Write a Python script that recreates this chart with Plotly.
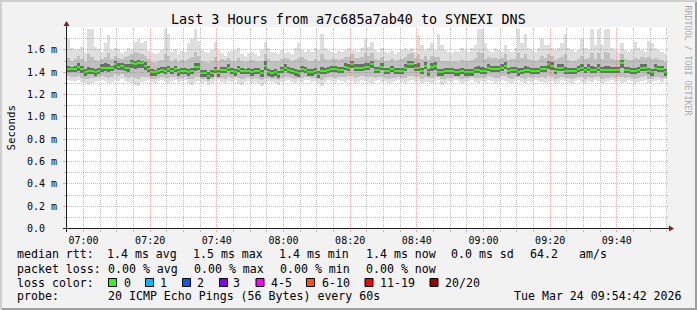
import plotly.graph_objects as go
from datetime import datetime, timedelta

# ---------------- data ----------------
title_text = "Last 3 Hours from a7c685a7ab40 to SYNEXI DNS"
first_step = datetime(2026, 3, 24, 6, 55, 0)   # start of first 60 s step
step_seconds = 60
x_tick_times = ["07:00", "07:20", "07:40", "08:00", "08:20", "08:40", "09:00", "09:20", "09:40"]
y_tick_values = [0.0, 0.2, 0.4, 0.6, 0.8, 1.0, 1.2, 1.4, 1.6]
y_tick_labels = ["0.0\u00a0\u00a0", "0.2 m", "0.4 m", "0.6 m", "0.8 m", "1.0 m", "1.2 m", "1.4 m", "1.6 m"]

# median rtt per step (ms)
median_ms = [
    1.43,1.43,1.43,1.45,1.43,1.40,1.41,1.41,1.40,1.41,1.44,1.44,1.44,1.44,1.47,1.45,1.46,1.44,1.44,1.48,1.47,1.48,1.48,1.46,1.43,1.40,1.40,1.41,1.42,1.41,1.43,1.41,1.43,1.40,1.41,1.41,
    1.40,1.41,1.45,1.45,1.39,1.39,1.37,1.39,1.42,1.39,1.42,1.42,1.44,1.41,1.40,1.43,1.41,1.41,1.41,1.40,1.41,1.41,1.39,1.46,1.40,1.39,1.40,1.38,1.42,1.44,1.42,1.41,1.40,1.39,1.43,1.42,
    1.40,1.40,1.41,1.38,1.41,1.41,1.42,1.43,1.43,1.42,1.42,1.45,1.44,1.47,1.44,1.44,1.44,1.45,1.45,1.47,1.42,1.42,1.45,1.41,1.41,1.43,1.41,1.41,1.41,1.44,1.47,1.47,1.44,1.44,1.41,1.46,
    1.40,1.45,1.46,1.40,1.40,1.41,1.41,1.41,1.40,1.40,1.41,1.40,1.40,1.40,1.42,1.42,1.41,1.41,1.44,1.43,1.43,1.43,1.44,1.46,1.41,1.42,1.42,1.40,1.41,1.42,1.42,1.41,1.41,1.41,1.43,1.43,
    1.47,1.46,1.41,1.44,1.44,1.41,1.41,1.41,1.41,1.43,1.44,1.42,1.44,1.42,1.42,1.44,1.42,1.42,1.42,1.42,1.42,1.42,1.48,1.42,1.42,1.41,1.41,1.42,1.44,1.44,1.41,1.40,1.44,1.43,1.43,1.40,
]
# slowest ping per step (ms)
max_ms = [
    1.70,1.62,1.60,1.61,1.63,1.57,1.79,1.79,1.63,1.61,1.58,1.66,1.73,1.60,1.62,1.61,1.57,1.59,1.62,1.60,1.67,1.70,1.66,1.68,1.59,1.57,1.56,1.57,1.60,1.79,1.74,1.58,1.61,1.56,1.59,1.58,
    1.66,1.70,1.79,1.68,1.60,1.58,1.57,1.60,1.67,1.60,1.57,1.55,1.58,1.59,1.60,1.62,1.56,1.55,1.57,1.58,1.56,1.55,1.60,1.67,1.62,1.58,1.57,1.56,1.60,1.57,1.58,1.56,1.62,1.66,1.60,1.58,
    1.60,1.58,1.62,1.60,1.74,1.62,1.60,1.58,1.57,1.59,1.58,1.60,1.62,1.60,1.59,1.58,1.62,1.70,1.63,1.67,1.60,1.58,1.62,1.58,1.57,1.59,1.56,1.58,1.60,1.62,1.60,1.62,1.58,1.73,1.64,1.60,
    1.62,1.66,1.60,1.74,1.64,1.60,1.58,1.57,1.59,1.58,1.62,1.60,1.58,1.62,1.64,1.79,1.79,1.66,1.60,1.58,1.62,1.60,1.58,1.64,1.60,1.58,1.62,1.79,1.66,1.74,1.62,1.60,1.58,1.62,1.70,1.64,
    1.64,1.62,1.60,1.62,1.66,1.74,1.62,1.60,1.58,1.60,1.70,1.62,1.60,1.79,1.64,1.79,1.64,1.79,1.79,1.62,1.60,1.58,1.66,1.60,1.58,1.60,1.67,1.62,1.60,1.58,1.68,1.66,1.62,1.60,1.58,1.56,
]
# fastest ping per step (ms)
min_ms = [
    1.33,1.32,1.32,1.33,1.31,1.30,1.29,1.30,1.31,1.32,1.33,1.32,1.30,1.31,1.33,1.32,1.34,1.32,1.31,1.30,1.29,1.28,1.31,1.32,1.33,1.31,1.30,1.32,1.33,1.31,1.30,1.32,1.33,1.31,1.32,1.33,
    1.30,1.29,1.31,1.32,1.30,1.31,1.29,1.30,1.32,1.33,1.31,1.30,1.32,1.31,1.33,1.30,1.29,1.31,1.32,1.30,1.31,1.30,1.28,1.30,1.32,1.31,1.30,1.29,1.31,1.32,1.33,1.31,1.30,1.32,1.31,1.33,
    1.33,1.31,1.32,1.30,1.28,1.31,1.33,1.32,1.31,1.33,1.32,1.31,1.33,1.32,1.30,1.31,1.33,1.32,1.31,1.30,1.32,1.33,1.31,1.32,1.30,1.31,1.32,1.33,1.31,1.30,1.32,1.33,1.31,1.32,1.30,1.31,
    1.31,1.30,1.32,1.33,1.29,1.30,1.32,1.31,1.33,1.32,1.30,1.31,1.32,1.33,1.31,1.30,1.32,1.31,1.33,1.32,1.30,1.31,1.33,1.32,1.31,1.30,1.32,1.33,1.31,1.30,1.32,1.31,1.33,1.32,1.31,1.30,
    1.31,1.32,1.30,1.31,1.33,1.32,1.31,1.30,1.32,1.33,1.31,1.30,1.32,1.31,1.33,1.32,1.30,1.31,1.32,1.33,1.31,1.32,1.30,1.31,1.33,1.32,1.30,1.31,1.32,1.33,1.30,1.31,1.32,1.33,1.31,1.34,
]
# upper / lower edge of the middle smoke band (ms)
upper_ms = [
    1.53,1.50,1.52,1.55,1.52,1.49,1.56,1.54,1.51,1.50,1.52,1.54,1.57,1.52,1.55,1.53,1.52,1.54,1.55,1.56,1.58,1.57,1.56,1.55,1.52,1.49,1.48,1.50,1.51,1.56,1.55,1.50,1.52,1.49,1.51,1.50,
    1.52,1.54,1.58,1.55,1.50,1.49,1.48,1.50,1.54,1.50,1.52,1.51,1.53,1.50,1.50,1.53,1.50,1.49,1.50,1.51,1.50,1.49,1.50,1.56,1.52,1.50,1.50,1.49,1.52,1.53,1.52,1.50,1.51,1.53,1.54,1.52,
    1.50,1.50,1.52,1.50,1.56,1.52,1.51,1.52,1.52,1.51,1.52,1.54,1.54,1.56,1.53,1.53,1.54,1.57,1.55,1.57,1.52,1.51,1.54,1.50,1.50,1.52,1.50,1.51,1.52,1.54,1.56,1.57,1.53,1.56,1.52,1.55,
    1.51,1.55,1.54,1.54,1.50,1.50,1.50,1.49,1.50,1.49,1.51,1.50,1.50,1.51,1.53,1.58,1.57,1.52,1.54,1.53,1.53,1.52,1.53,1.56,1.51,1.52,1.52,1.57,1.53,1.56,1.52,1.51,1.50,1.51,1.55,1.53,
    1.56,1.55,1.51,1.53,1.54,1.56,1.51,1.50,1.50,1.52,1.55,1.52,1.53,1.57,1.52,1.57,1.52,1.58,1.57,1.52,1.51,1.51,1.56,1.52,1.51,1.51,1.53,1.52,1.54,1.53,1.54,1.52,1.53,1.52,1.51,1.49,
]
lower_ms = [
    1.37,1.36,1.36,1.37,1.35,1.34,1.34,1.35,1.35,1.36,1.37,1.36,1.35,1.36,1.38,1.37,1.38,1.36,1.35,1.36,1.35,1.34,1.36,1.36,1.36,1.34,1.34,1.35,1.36,1.35,1.35,1.36,1.36,1.34,1.35,1.36,
    1.34,1.34,1.36,1.36,1.34,1.34,1.32,1.34,1.36,1.35,1.35,1.34,1.36,1.35,1.36,1.35,1.34,1.35,1.36,1.34,1.35,1.34,1.33,1.35,1.35,1.34,1.34,1.33,1.35,1.36,1.36,1.35,1.34,1.35,1.35,1.36,
    1.36,1.35,1.35,1.34,1.33,1.35,1.36,1.36,1.35,1.36,1.36,1.36,1.37,1.37,1.35,1.36,1.37,1.36,1.36,1.36,1.35,1.36,1.36,1.35,1.34,1.35,1.35,1.36,1.35,1.35,1.37,1.37,1.36,1.36,1.34,1.36,
    1.35,1.35,1.36,1.36,1.34,1.34,1.35,1.35,1.36,1.35,1.34,1.35,1.35,1.36,1.35,1.35,1.35,1.35,1.37,1.36,1.35,1.35,1.37,1.37,1.35,1.34,1.36,1.36,1.35,1.34,1.36,1.35,1.36,1.35,1.36,1.35,
    1.37,1.36,1.34,1.35,1.36,1.35,1.35,1.34,1.35,1.36,1.36,1.34,1.36,1.35,1.36,1.36,1.34,1.35,1.35,1.36,1.35,1.36,1.36,1.35,1.36,1.35,1.34,1.35,1.36,1.37,1.34,1.34,1.36,1.36,1.35,1.35,
]
# upper / lower edge of the dense core of the smoke (ms)
core_hi_ms = [
    1.46,1.45,1.46,1.48,1.46,1.43,1.45,1.44,1.43,1.44,1.47,1.48,1.47,1.46,1.50,1.48,1.48,1.47,1.47,1.51,1.50,1.51,1.50,1.49,1.46,1.43,1.42,1.44,1.45,1.45,1.46,1.44,1.46,1.43,1.44,1.44,
    1.43,1.44,1.48,1.48,1.42,1.42,1.40,1.42,1.45,1.42,1.45,1.45,1.47,1.44,1.43,1.46,1.44,1.43,1.44,1.43,1.44,1.44,1.42,1.50,1.43,1.42,1.43,1.41,1.45,1.47,1.45,1.44,1.43,1.42,1.46,1.45,
    1.43,1.43,1.44,1.41,1.45,1.44,1.45,1.46,1.46,1.45,1.45,1.48,1.47,1.50,1.47,1.47,1.47,1.48,1.48,1.50,1.45,1.45,1.48,1.44,1.44,1.46,1.44,1.44,1.44,1.47,1.50,1.50,1.47,1.48,1.44,1.49,
    1.43,1.48,1.49,1.43,1.43,1.44,1.44,1.44,1.43,1.43,1.44,1.43,1.43,1.43,1.45,1.46,1.45,1.44,1.47,1.46,1.46,1.46,1.47,1.49,1.44,1.45,1.45,1.44,1.44,1.46,1.45,1.44,1.44,1.44,1.46,1.46,
    1.50,1.49,1.44,1.47,1.47,1.45,1.44,1.44,1.44,1.46,1.47,1.45,1.47,1.46,1.45,1.47,1.45,1.46,1.46,1.45,1.45,1.45,1.51,1.45,1.45,1.44,1.44,1.45,1.47,1.47,1.44,1.43,1.47,1.46,1.46,1.43,
]
core_lo_ms = [
    1.40,1.40,1.40,1.41,1.39,1.37,1.38,1.38,1.37,1.38,1.40,1.41,1.40,1.41,1.43,1.42,1.42,1.41,1.40,1.44,1.43,1.44,1.44,1.42,1.40,1.37,1.37,1.38,1.39,1.38,1.40,1.38,1.40,1.37,1.38,1.38,
    1.37,1.38,1.41,1.42,1.36,1.36,1.34,1.36,1.39,1.36,1.39,1.39,1.41,1.38,1.37,1.40,1.38,1.38,1.38,1.37,1.38,1.38,1.36,1.42,1.37,1.36,1.37,1.35,1.39,1.41,1.39,1.38,1.37,1.36,1.40,1.39,
    1.37,1.37,1.38,1.35,1.38,1.38,1.39,1.40,1.40,1.39,1.39,1.42,1.41,1.44,1.41,1.41,1.41,1.42,1.42,1.44,1.39,1.39,1.42,1.38,1.38,1.40,1.38,1.38,1.38,1.41,1.44,1.44,1.41,1.41,1.38,1.43,
    1.37,1.41,1.42,1.37,1.37,1.38,1.38,1.38,1.37,1.37,1.38,1.37,1.37,1.37,1.39,1.39,1.38,1.38,1.41,1.40,1.40,1.40,1.41,1.43,1.38,1.39,1.39,1.37,1.38,1.39,1.39,1.38,1.38,1.38,1.40,1.40,
    1.43,1.42,1.38,1.41,1.41,1.38,1.38,1.38,1.38,1.40,1.41,1.39,1.41,1.39,1.39,1.41,1.39,1.39,1.39,1.39,1.39,1.39,1.44,1.39,1.39,1.38,1.38,1.39,1.41,1.41,1.38,1.37,1.41,1.40,1.40,1.37,
]

loss_labels = ["0", "1", "2", "3", "4-5", "6-10", "11-19", "20/20"]
loss_colors = ["#26ff00", "#00b8ff", "#0059ff", "#7e00ff", "#ff00ff", "#ff5500", "#ff0000", "#a00000"]

legend_rtt = ["median rtt:", "1.4 ms avg", "1.5 ms max", "1.4 ms min", "1.4 ms now", "0.0 ms sd", "64.2", "am/s"]
legend_loss = ["packet loss:", "0.00 % avg", "0.00 % max", "0.00 % min", "0.00 % now"]
probe_text = ["probe:", "20 ICMP Echo Pings (56 Bytes) every 60s", "Tue Mar 24 09:54:42 2026"]
side_text = "RRDTOOL / TOBI OETIKER"
y_title = "Seconds"

for arr in (max_ms, min_ms, upper_ms, lower_ms, core_hi_ms, core_lo_ms):
    assert len(arr) == len(median_ms), len(arr)

# ---------------- geometry (pixels of the 697x310 canvas) ----------------
W, H = 697, 310
PL, PR, PT, PB = 67, 667, 27, 229       # plot area
PX_PER_MS = 111.6
ZERO_ROW = 228.5
y0 = (ZERO_ROW - PB) / PX_PER_MS
y1 = (ZERO_ROW - PT) / PX_PER_MS
x0 = first_step + timedelta(seconds=3)
x1 = x0 + timedelta(hours=3)
SPAN = (x1 - x0).total_seconds()

def fx(px):
    return (px - PL) / (PR - PL)

def fy(py):
    return (PB - py) / (PB - PT)

def fmt(t):
    return t.strftime("%Y-%m-%d %H:%M:%S")

day = first_step.strftime("%Y-%m-%d")
centers = [fmt(first_step + timedelta(seconds=step_seconds * k + step_seconds / 2)) for k in range(len(median_ms))]
bar_w = step_seconds * 1000

fig = go.Figure()

def band(lo, hi, color):
    fig.add_trace(go.Bar(
        x=centers, y=[h - l for l, h in zip(lo, hi)], base=lo, width=bar_w,
        marker=dict(color=color, line=dict(width=0)), hoverinfo="skip", showlegend=False))

band(min_ms, max_ms, "#dedede")
band(lower_ms, upper_ms, "#c0c0c0")
band(core_lo_ms, core_hi_ms, "#6c6c6c")
half = 1.0 / PX_PER_MS
band([m - half for m in median_ms], [m + half for m in median_ms], loss_colors[0])

GRID = "rgba(143,143,143,0.55)"
MGRID = "rgba(222,79,79,0.45)"

shapes = []
# horizontal grid (above the smoke, as rrdtool draws it)
for i in range(1, 18):
    v = i / 10
    py = ZERO_ROW - v * PX_PER_MS
    py = int(py) + 0.5
    vs = (ZERO_ROW - py) / PX_PER_MS
    shapes.append(dict(type="line", xref="paper", yref="y", x0=0, x1=1.0 + 1.5 / 600, y0=vs, y1=vs,
                       line=dict(color=MGRID if i % 2 == 0 else GRID, width=1, dash="1px,1px"), layer="above"))
# vertical grid every 5 minutes
t = first_step
minor_vals, major_vals = [], []
while t <= x1:
    if t > x0:
        px = PL + (t - x0).total_seconds() / SPAN * (PR - PL)
        pxs = int(px) + 0.5
        ts = x0 + timedelta(seconds=(pxs - PL) / (PR - PL) * SPAN)
        is_major = (t.minute % 20 == 0)
        shapes.append(dict(type="line", xref="x", yref="paper", x0=fmt(ts), x1=fmt(ts), y0=0, y1=1,
                           line=dict(color=MGRID if is_major else GRID, width=1, dash="1px,1px"), layer="above"))
        (major_vals if is_major else minor_vals).append(fmt(t))
    t += timedelta(minutes=5)

# axis lines and arrows
shapes.append(dict(type="line", xref="paper", yref="paper", x0=fx(63), x1=fx(670), y0=fy(ZERO_ROW), y1=fy(ZERO_ROW),
                   line=dict(color="#1f1f1f", width=1), layer="above"))
shapes.append(dict(type="line", xref="paper", yref="paper", x0=fx(66.5), x1=fx(66.5), y0=fy(232), y1=fy(25),
                   line=dict(color="#1f1f1f", width=1), layer="above"))
ARROW = "#801f1f"
shapes.append(dict(type="path", xref="paper", yref="paper", layer="above",
                   path=f"M {fx(669)} {fy(225.5)} L {fx(674)} {fy(228.5)} L {fx(669)} {fy(231.5)} Z",
                   fillcolor=ARROW, line=dict(width=0)))
shapes.append(dict(type="path", xref="paper", yref="paper", layer="above",
                   path=f"M {fx(63.5)} {fy(26)} L {fx(66.5)} {fy(21)} L {fx(69.5)} {fy(26)} Z",
                   fillcolor=ARROW, line=dict(width=0)))

# 3d frame of the canvas
SHADEA, SHADEB = "#cfcfcf", "#9e9e9e"
shapes.append(dict(type="rect", xref="paper", yref="paper", x0=fx(0), x1=fx(W), y0=fy(0), y1=fy(2), fillcolor=SHADEA, line=dict(width=0), layer="above"))
shapes.append(dict(type="rect", xref="paper", yref="paper", x0=fx(0), x1=fx(2), y0=fy(0), y1=fy(H), fillcolor=SHADEA, line=dict(width=0), layer="above"))
shapes.append(dict(type="rect", xref="paper", yref="paper", x0=fx(2), x1=fx(W), y0=fy(H - 2), y1=fy(H), fillcolor=SHADEB, line=dict(width=0), layer="above"))
shapes.append(dict(type="rect", xref="paper", yref="paper", x0=fx(W - 2), x1=fx(W), y0=fy(2), y1=fy(H), fillcolor=SHADEB, line=dict(width=0), layer="above"))

# ---------------- texts ----------------
MONO = "DejaVu Sans Mono"
LEG = 11.6
ann = []

def text(s, px, py, size=LEG, anchor="left", color="#000", angle=0):
    ann.append(dict(text=s, xref="paper", yref="paper", x=fx(px), y=fy(py), xanchor=anchor, yanchor="middle",
                    showarrow=False, borderpad=0, textangle=angle,
                    font=dict(family=MONO, size=size, color=color)))

text(title_text, 348.5, 19.3, size=13.4, anchor="center")
text(y_title, 10.5, 128, size=10.8, anchor="center", angle=-90)
text(side_text, 687.5, 60, size=8.3, anchor="center", color="#ababab", angle=90)

row1, row2, row3, row4 = 254.5, 268.5, 282.5, 296.3
for s, px in zip(legend_rtt, [15.5, 106, 192, 278, 364.5, 450, 529, 578]):
    text(s, px, row1)
for s, px in zip(legend_loss, [15.5, 106.5, 192.5, 278.5, 365]):
    text(s, px, row2)
text("loss color:", 15.5, row3)
box_x = [108.5, 145.5, 182.5, 219.5, 256, 306.5, 365, 430]
lab_x = [122.5, 158.5, 195.7, 232.3, 269.5, 320.5, 378.5, 444]
for lab, col, bx, lx in zip(loss_labels, loss_colors, box_x, lab_x):
    shapes.append(dict(type="rect", xref="paper", yref="paper", x0=fx(bx), x1=fx(bx + 8), y0=fy(286.5), y1=fy(278.5),
                       fillcolor=col, line=dict(color="#000", width=1), layer="above"))
    text(lab, lx, row3)
for s, px in zip(probe_text, [15.5, 106.5, 513]):
    text(s, px, row4)

major_x = [f"{day} {h}:00" for h in x_tick_times]

fig.update_layout(
    width=W, height=H, margin=dict(l=PL, r=W - PR, t=PT, b=H - PB, pad=0),
    paper_bgcolor="#f2f2f2", plot_bgcolor="#ffffff",
    barmode="overlay", bargap=0, showlegend=False,
    font=dict(family=MONO, size=10, color="#000"),
    shapes=shapes, annotations=ann,
    xaxis=dict(type="date", range=[fmt(x0), fmt(x1)], tickmode="array", tickvals=major_x, ticktext=x_tick_times,
               ticks="outside", ticklen=2, tickcolor=MGRID, showgrid=False, zeroline=False, showline=False,
               tickfont=dict(family=MONO, size=10), ticklabelstandoff=0, fixedrange=True,
               minor=dict(tickvals=minor_vals, ticks="outside", ticklen=2, tickcolor=GRID, showgrid=False)),
    yaxis=dict(range=[y0, y1], tickmode="array", tickvals=y_tick_values, ticktext=y_tick_labels,
               ticks="outside", ticklen=3, tickcolor=MGRID, showgrid=False, zeroline=False, showline=False,
               tickfont=dict(family=MONO, size=10), ticklabelstandoff=4, fixedrange=True,
               minor=dict(tickvals=[i / 10 for i in range(1, 18, 2)], ticks="outside", ticklen=2, tickcolor=GRID, showgrid=False)),
)

fig.write_html("out.html")
